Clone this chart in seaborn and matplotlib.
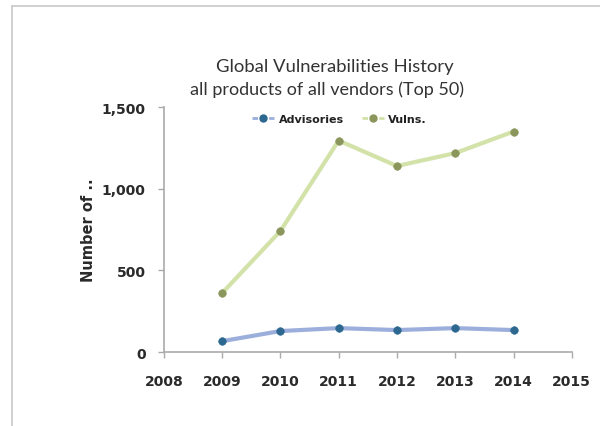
import matplotlib
matplotlib.use("Agg")
import matplotlib.pyplot as plt
import seaborn as sns
import pandas as pd
from matplotlib.lines import Line2D

years = [2009, 2010, 2011, 2012, 2013, 2014]
advisories = [67, 129, 147, 135, 147, 135]
vulns = [361, 741, 1295, 1139, 1218, 1350]
series_names = ["Advisories", "Vulns."]
x_ticks = [2008, 2009, 2010, 2011, 2012, 2013, 2014, 2015]
y_ticks = [0, 500, 1000, 1500]
y_tick_labels = ["0", "500", "1,000", "1,500"]

df = pd.DataFrame({
    "Year": years * 2,
    "Count": advisories + vulns,
    "Series": [series_names[0]] * len(years) + [series_names[1]] * len(years),
})

sns.set_theme(style="white")
plt.rcParams['font.family'] = ['DejaVu Sans']

fig = plt.figure(figsize=(6, 4.27), dpi=100)
ax = fig.add_axes([0.273, 0.173, 0.68, 0.574])

line_cols = {"Advisories": "#9cafdc", "Vulns.": "#d2e2a8"}
mark_cols = {"Advisories": "#2d6890", "Vulns.": "#8b965c"}

for name in series_names:
    sub = df[df["Series"] == name]
    sns.lineplot(data=sub, x="Year", y="Count", ax=ax, color=line_cols[name],
                 linewidth=3, legend=False)
    sns.scatterplot(data=sub, x="Year", y="Count", ax=ax, color=mark_cols[name],
                    s=30, edgecolor=mark_cols[name], legend=False, zorder=5)

ax.set_xlim(2008, 2015)
ax.set_ylim(0, 1500)
ax.set_xticks(x_ticks)
ax.set_xticklabels([str(t) for t in x_ticks])
ax.set_yticks(y_ticks)
ax.set_yticklabels(y_tick_labels)
ax.set_xlabel("")
ax.set_ylabel("Number of ..", fontsize=10.5, color="#2a2a2a", fontweight="bold", labelpad=4)
ax.tick_params(axis="y", labelsize=10, length=4, width=1, direction="out",
               left=True, pad=9, color="#aaaaaa", labelcolor="#2a2a2a")
ax.tick_params(axis="x", labelsize=10, length=4, width=1, direction="out",
               bottom=True, pad=12, color="#aaaaaa", labelcolor="#2a2a2a")
for t in ax.get_xticklabels() + ax.get_yticklabels():
    t.set_fontweight("bold")
for side in ["top", "right"]:
    ax.spines[side].set_visible(False)
for side in ["left", "bottom"]:
    ax.spines[side].set_color("#aaaaaa")
    ax.spines[side].set_linewidth(1.2)

fig.text(0.558, 0.843, "Global Vulnerabilities History", ha="center", va="center",
         fontsize=13.3, color="#333333", family="Lato")
fig.text(0.545, 0.789, "all products of all vendors (Top 50)", ha="center", va="center",
         fontsize=13, color="#333333", family="Lato")

handles = [Line2D([0], [0], color=line_cols[n], lw=2, marker="o", markersize=5,
                  markerfacecolor=mark_cols[n], markeredgecolor=mark_cols[n],
                  linestyle=(0, (2, 1)))
           for n in series_names]
leg = fig.legend(handles, series_names, loc="center", bbox_to_anchor=(0.566, 0.72),
                 ncol=2, frameon=False, fontsize=8, handlelength=2.0, columnspacing=1.6,
                 handletextpad=0.4, labelcolor="#222222", prop={"weight": "bold", "size": 8})

fig.add_artist(Line2D([0.02, 1.0], [0.984, 0.984], transform=fig.transFigure,
                      color="#c8c8c8", lw=1.2))
fig.add_artist(Line2D([0.02, 0.02], [0.0, 0.984], transform=fig.transFigure,
                      color="#c8c8c8", lw=1.2))

fig.savefig("out.png", dpi=100, facecolor="white")
